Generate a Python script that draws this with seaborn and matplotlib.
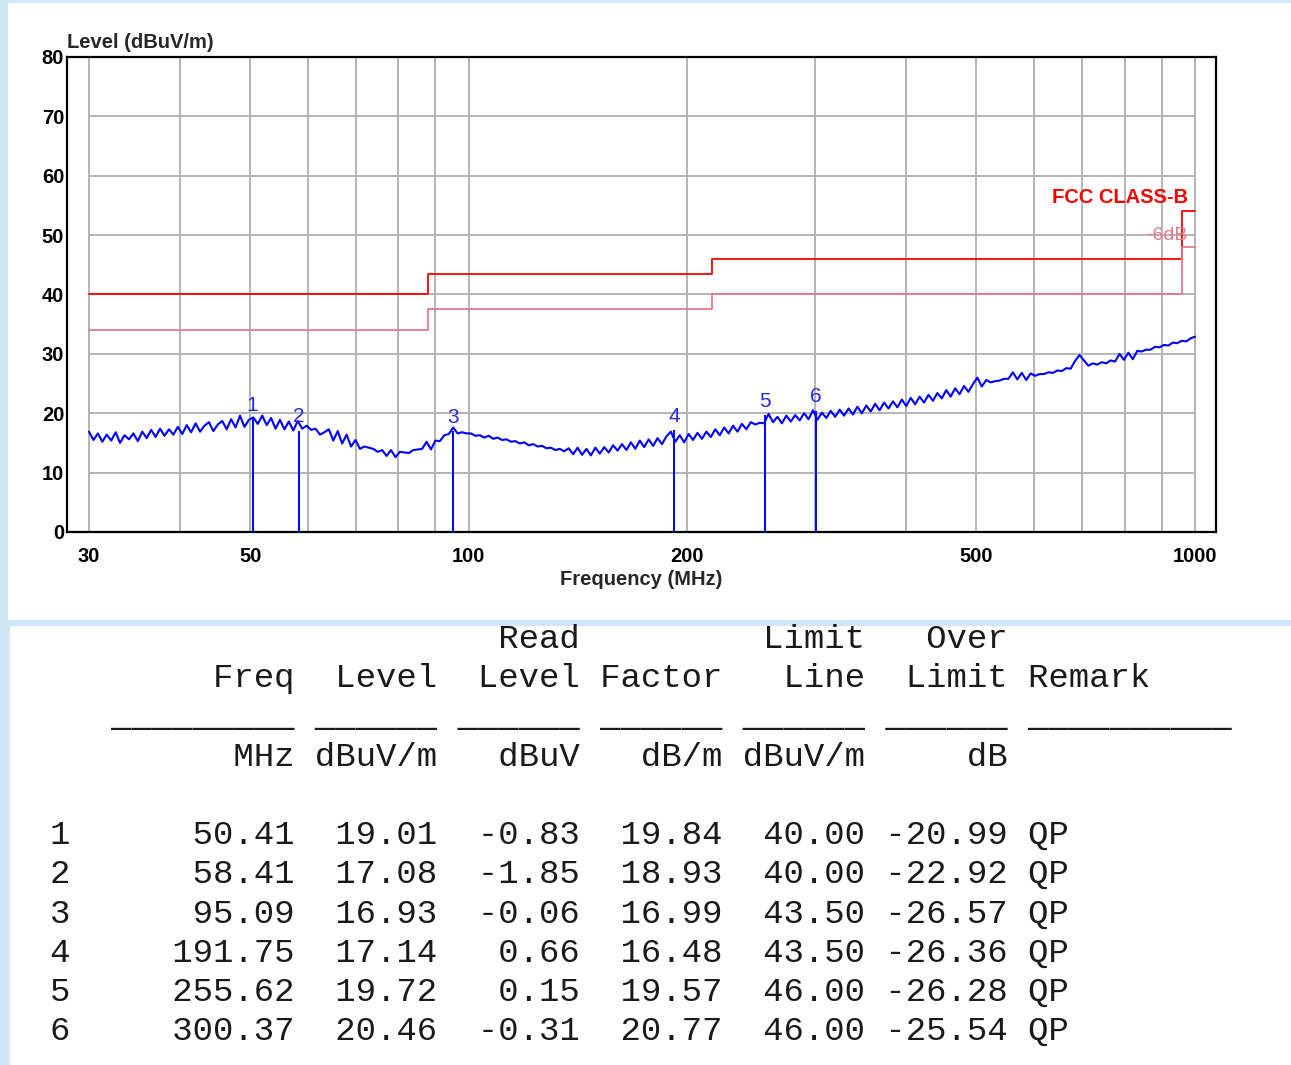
import numpy as np
import matplotlib
matplotlib.use("Agg")
import matplotlib.pyplot as plt
import seaborn as sns
from matplotlib.patches import Rectangle
from matplotlib.ticker import NullLocator

# Marker table
marker_no = [1, 2, 3, 4, 5, 6]
marker_freq = [50.41, 58.41, 95.09, 191.75, 255.62, 300.37]
marker_level = [19.01, 17.08, 16.93, 17.14, 19.72, 20.46]
read_level = [-0.83, -1.85, -0.06, 0.66, 0.15, -0.31]
factor = [19.84, 18.93, 16.99, 16.48, 19.57, 20.77]
limit_line = [40.00, 40.00, 43.50, 43.50, 46.00, 46.00]
over_limit = [-20.99, -22.92, -26.57, -26.36, -26.28, -25.54]
remark = ["QP", "QP", "QP", "QP", "QP", "QP"]

# FCC class B limit (steps)
limit_freq = [30, 88, 216, 960, 1000]
limit_level = [40.0, 43.5, 46.0, 54.0, 54.0]
margin_level = [34.0, 37.5, 40.0, 48.0, 48.0]

# scanned trace (30 -> 1000 MHz, log sweep)
trace_level = [
    16.9, 15.5, 16.6, 15.2, 16.4, 15.4, 16.8, 15.0, 16.3, 15.6,
    16.6, 15.3, 16.9, 15.8, 17.2, 16.0, 17.4, 16.2, 17.3, 16.4,
    17.7, 16.5, 18.0, 16.8, 18.3, 16.9, 17.9, 18.5, 17.0, 18.1,
    18.7, 17.3, 19.0, 17.6, 19.6, 17.7, 18.9, 19.3, 18.2, 19.6,
    18.0, 19.2, 17.4, 18.9, 17.3, 18.6, 17.1, 18.7, 17.4, 17.9,
    17.2, 17.4, 16.4, 16.8, 17.3, 15.4, 17.0, 14.9, 16.4, 14.4,
    15.5, 14.0, 14.4, 14.2, 14.0, 13.5, 13.8, 12.8, 13.8, 12.6,
    13.5, 13.4, 13.3, 13.8, 13.9, 14.0, 15.2, 13.9, 15.4, 15.3,
    16.3, 16.5, 17.6, 16.6, 16.8, 16.6, 16.6, 16.2, 16.3, 15.9,
    16.2, 15.7, 15.9, 15.5, 15.6, 15.2, 15.3, 14.9, 15.1, 14.6,
    14.8, 14.4, 14.5, 14.1, 14.2, 13.8, 14.0, 13.6, 14.1, 13.1,
    14.2, 13.0, 14.0, 12.9, 14.2, 13.2, 14.3, 13.4, 14.6, 13.7,
    14.8, 13.8, 15.1, 14.0, 15.4, 14.3, 15.6, 14.5, 15.8, 14.8,
    16.1, 16.9, 15.2, 16.3, 15.1, 16.5, 15.5, 16.7, 15.7, 16.9,
    16.0, 17.3, 16.3, 17.6, 16.6, 17.9, 16.9, 18.2, 17.3, 18.5,
    18.1, 18.4, 18.3, 19.9, 18.5, 19.4, 18.3, 19.6, 18.6, 19.7,
    18.8, 20.0, 19.0, 20.5, 18.9, 20.1, 19.2, 20.4, 19.4, 20.6,
    19.6, 20.8, 19.8, 21.1, 20.0, 21.3, 20.3, 21.6, 20.5, 21.8,
    20.8, 22.0, 21.0, 22.3, 21.2, 22.6, 21.5, 22.8, 21.8, 23.1,
    22.1, 23.4, 22.5, 23.9, 22.8, 24.2, 23.2, 24.6, 23.6, 24.9,
    26.0, 24.5, 25.6, 25.2, 25.4, 25.5, 25.8, 25.8, 26.9, 25.7,
    26.8, 25.6, 26.7, 26.3, 26.6, 26.6, 26.9, 26.8, 27.2, 27.1,
    27.6, 27.5, 28.8, 29.8, 28.9, 28.0, 28.4, 28.2, 28.6, 28.4,
    28.9, 28.7, 30.0, 29.0, 30.2, 29.1, 30.5, 30.4, 30.7, 30.7,
    31.2, 31.1, 31.5, 31.4, 31.9, 31.8, 32.2, 32.1, 32.6, 32.9,
]
sweep_freq = np.geomspace(30, 1000, len(trace_level))

x_ticks = [30, 50, 100, 200, 500, 1000]
y_ticks = [0, 10, 20, 30, 40, 50, 60, 70, 80]
grid_freq = [30, 40, 50, 60, 70, 80, 90, 100, 200, 300, 400, 500, 600, 700, 800, 900, 1000]

sns.set_style("white")
plt.rcParams['font.family'] = ['Liberation Sans', 'DejaVu Sans']

W, H = 1291, 1065
fig = plt.figure(figsize=(W / 100, H / 100), dpi=100)
fig.patch.set_facecolor("#cfe7f6")
# white panels behind everything
fig.patches.append(Rectangle((8 / W, 1 - 620 / H), 1, (620 - 3) / H,
                             transform=fig.transFigure, facecolor="white", edgecolor="none", zorder=-5))
fig.patches.append(Rectangle((10 / W, 0), 1, (H - 626) / H,
                             transform=fig.transFigure, facecolor="white", edgecolor="none", zorder=-5))

ax = fig.add_axes([67 / W, 1 - 532 / H, (1216 - 67) / W, (532 - 57) / H])
ax.set_zorder(3)
ax.set_facecolor("white")
ax.set_xscale("log")
ax.set_xlim(27.98, 1068.9)
ax.set_ylim(0, 80)

grid_c = "#b4b4b4"
ax.hlines(y_ticks[1:], 30, 1000, color=grid_c, lw=1.4, zorder=1)
ax.vlines(grid_freq, 0, 80, color=grid_c, lw=1.4, zorder=1)

# limit lines
sns.lineplot(x=limit_freq, y=limit_level, ax=ax, color="#ff0000", lw=1.3,
             drawstyle="steps-post", estimator=None, sort=False, zorder=3)
sns.lineplot(x=limit_freq, y=margin_level, ax=ax, color="#e8788c", lw=1.3,
             drawstyle="steps-post", estimator=None, sort=False, zorder=3)
ax.text(978, 56.4, "FCC CLASS-B", color="#ff0000", fontsize=14.5, fontweight="bold",
        ha="right", va="center", zorder=4)
ax.text(978, 50.0, "-6dB", color="#e8788c", fontsize=14, ha="right", va="center", zorder=4)

# trace
sns.lineplot(x=sweep_freq, y=trace_level, ax=ax, color="#0000ff", lw=1.5,
             estimator=None, sort=False, zorder=4)

# markers
ax.vlines(marker_freq, 0, marker_level, color="#0000ff", lw=1.4, zorder=5)
for n, f, lv in zip(marker_no, marker_freq, marker_level):
    ax.text(f, lv + 2.3, str(n), color="#2a2ae0", fontsize=15, ha="center", va="center", zorder=6)

ax.set_xticks(x_ticks)
ax.set_xticklabels([str(v) for v in x_ticks])
ax.xaxis.set_minor_locator(NullLocator())
ax.set_yticks(y_ticks)
ax.set_yticklabels([str(v) for v in y_ticks])
ax.tick_params(axis="both", length=0, labelsize=14.5, colors="black")
ax.tick_params(axis="x", pad=11)
ax.tick_params(axis="y", pad=2)
for lab in ax.get_xticklabels() + ax.get_yticklabels():
    lab.set_fontweight("bold")
ax.set_xlabel("Frequency (MHz)", fontsize=14.5, fontweight="bold", labelpad=3)
ax.set_ylabel("")
ax.text(0, 1.03, "Level (dBuV/m)", transform=ax.transAxes, fontsize=14.5,
        fontweight="bold", ha="left", va="center")
for sp in ax.spines.values():
    sp.set_color("black")
    sp.set_linewidth(1.6)
    sp.set_visible(True)

# result table, monospaced like the report
lines = [
    f"{'':12}{'':7}{'Read':>7}{'':7}{'Limit':>7}{'Over':>7}",
    f"{'':1}{'Freq':>11}{'Level':>7}{'Level':>7}{'Factor':>7}{'Line':>7}{'Limit':>7} Remark",
    "   " + "_" * 9 + " " + " ".join(["_" * 6] * 5) + " " + "_" * 10,
    f"{'':1}{'MHz':>11}{'dBuV/m':>7}{'dBuV':>7}{'dB/m':>7}{'dBuV/m':>7}{'dB':>7}",
    "",
]
for i in range(len(marker_no)):
    lines.append(f"{marker_no[i]:<1}{marker_freq[i]:>11.2f}{marker_level[i]:>7.2f}"
                 f"{read_level[i]:>7.2f}{factor[i]:>7.2f}{limit_line[i]:>7.2f}"
                 f"{over_limit[i]:>7.2f} {remark[i]}")

base0 = 648
step = 39.2
for k, s in enumerate(lines):
    if not s:
        continue
    y = 1 - (base0 + k * step) / H
    fig.text(50 / W, y, s, family="Liberation Mono", fontsize=24.5, color="#1a1a1a",
             ha="left", va="baseline")

fig.savefig("out.png", dpi=100, facecolor=fig.get_facecolor())
